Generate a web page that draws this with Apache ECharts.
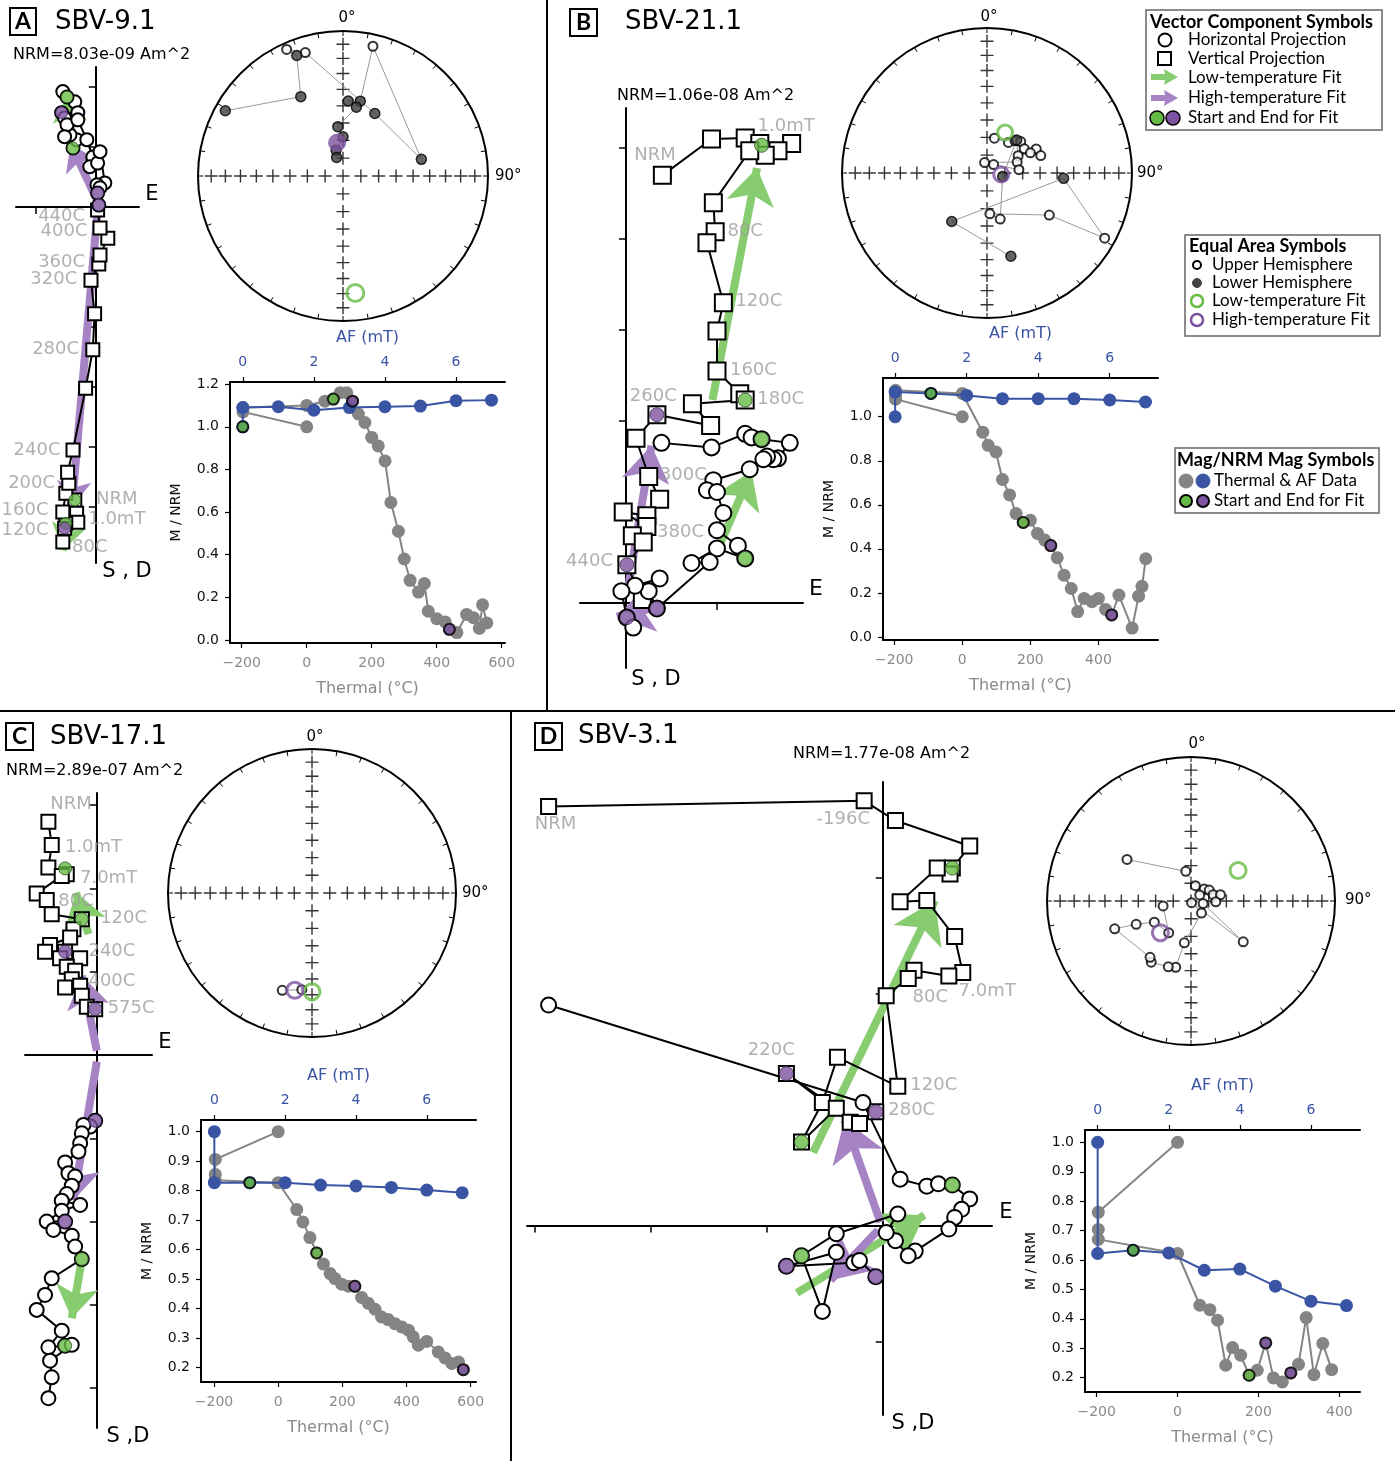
<!DOCTYPE html>
<html>
<head>
<meta charset="utf-8">
<script src="https://cdn.jsdelivr.net/npm/echarts@6.0.0/dist/echarts.min.js"></script>
<style>
html, body { margin: 0; padding: 0; background: #fff; }
#chart { width: 1395px; height: 1461px; }
</style>
</head>
<body>
<div id="chart"></div>
<script>
// ---------- SBV-9.1 (A) ----------
var aHoriz = [[-0.38,0.98],[-0.32,1.12],[-0.43,1.20],[-0.35,1.75],[-0.55,1.92],[-0.48,1.83],[-0.30,1.57],[-0.57,1.57],[-0.52,1.48],[-0.48,1.37],[-0.52,1.17],[-0.30,1.45],[-0.15,1.12],[-0.05,0.83],[-0.10,0.67],[0.03,0.73],[0.07,0.92],[0.15,0.40],[0.02,0.37],[0.07,0.32],[0.03,0.23],[0.05,0.03]];
var aVert = [[-0.35,-4.88],[-0.32,-5.10],[-0.30,-5.25],[-0.55,-5.58],[-0.50,-5.27],[-0.52,-5.35],[-0.55,-5.08],[-0.50,-4.77],[-0.45,-4.60],[-0.47,-4.42],[-0.38,-4.05],[-0.17,-3.02],[-0.05,-2.38],[-0.02,-1.78],[-0.08,-1.22],[0.05,-0.95],[0.07,-0.80],[0.20,-0.52],[0.07,-0.35],[0.03,-0.05]];
var aSteps = [[-0.57,-0.15,'440C'],[-0.53,-0.40,'400C'],[-0.57,-0.92,'360C'],[-0.70,-1.20,'320C'],[-0.67,-2.38,'280C'],[-0.98,-4.05,'240C'],[-1.07,-4.60,'200C'],[-1.18,-5.05,'160C'],[-1.18,-5.38,'120C'],[0.35,-4.87,'NRM'],[0.35,-5.20,'1.0mT'],[-0.10,-5.67,'80C']];
var aLowEnds = [[-0.38,0.98],[-0.48,1.83],[-0.35,-4.88],[-0.50,-5.27]];
var aHighEnds = [[-0.57,1.57],[0.03,0.23],[-0.52,-5.35],[0.05,0.03]];
var aLowFit = [[[-0.38,0.98],[-0.48,1.85]], [[-0.35,-4.88],[-0.55,-5.72]]];
var aHighFit = [[[0.05,0.05],[-0.42,1.05]], [[0.03,-0.05],[-0.40,-5.0]]];
var aEq = [[299,8],[332,38],[339,12],[336,-5],[343,-12],[27,50],[78,44],[13,-9],[13,46],[4,47],[11,50],[354,62],[0,68],[345,75],[341,79]];
var aEqLow = [174,-20], aEqHigh = [350,71];
var aThermal = [[0,1.0],[-196,1.07],[-196,1.09],[0,1.10],[56,1.12],[82,1.13],[103,1.16],[123,1.16],[141,1.12],[159,1.06],[179,1.02],[200,0.95],[220,0.91],[241,0.84],[259,0.645],[282,0.51],[300,0.38],[318,0.28],[344,0.225],[362,0.265],[374,0.135],[400,0.10],[426,0.085],[439,0.05],[462,0.035],[492,0.12],[513,0.105],[531,0.055],[541,0.165],[554,0.08]];
var aAF = [[0,1.0],[0,1.09],[1,1.094],[2,1.078],[3,1.09],[4,1.094],[5,1.097],[6,1.122],[7,1.125]];
var aMagLowT = [[82,1.13]], aMagLowAF = [[0,1.0]], aMagHighT = [[141,1.12],[439,0.05]];

// ---------- SBV-21.1 (B) ----------
var bHoriz = [[0.39,1.76],[0.94,1.71],[1.31,1.86],[1.38,1.82],[1.49,1.80],[1.80,1.76],[1.67,1.59],[1.62,1.58],[1.55,1.61],[1.51,1.58],[1.36,1.47],[0.96,1.35],[0.89,1.24],[1.00,1.22],[1.07,0.99],[1.00,0.80],[1.23,0.63],[1.31,0.49],[1.00,0.60],[0.72,0.44],[0.92,0.45],[0.34,-0.06],[0.25,0.13],[0.10,0.19],[0.37,0.27],[-0.05,0.13],[0.01,-0.16],[0.08,-0.27]];
var bVert = [[0.40,4.70],[0.94,5.10],[1.31,5.11],[1.47,5.05],[1.82,5.05],[1.67,4.97],[1.53,4.92],[1.36,4.97],[0.96,4.40],[0.98,4.08],[0.89,3.96],[1.07,3.30],[1.00,2.99],[1.00,2.55],[1.25,2.30],[1.31,2.23],[0.73,2.19],[0.93,1.95],[0.34,2.07],[0.11,1.81],[0.25,1.39],[0.37,1.14],[0.23,0.96],[-0.03,1.00],[0.23,0.84],[0.07,0.74],[0.19,0.67],[0.01,0.42],[0.18,0.04]];
var bSteps = [[0.32,4.92,'NRM'],[1.76,5.24,'1.0mT'],[1.31,4.09,'80C'],[1.46,3.31,'120C'],[1.40,2.56,'160C'],[1.70,2.24,'180C'],[0.30,2.27,'260C'],[0.63,1.40,'300C'],[0.60,0.78,'380C'],[-0.40,0.46,'440C']];
var bLowEnds = [[1.49,5.03],[1.31,2.23],[1.49,1.80],[1.31,0.49]];
var bHighEnds = [[0.34,2.07],[0.01,0.42],[0.34,-0.06],[0.01,-0.16]];
var bLowFit = [[[1.03,0.64],[1.38,1.45]], [[0.95,2.23],[1.44,4.78]]];
var bHighFit = [[[0.32,-0.05],[-0.10,-0.15]], [[0.02,0.14],[0.28,1.73]]];
var bEq = [[12,-70],[35,-69],[41,-66],[47,-64],[57,-65],[64,-59],[72,-58],[65,-63],[61,-70],[70,-72],[347,-84],[38,-84],[84,-72],[42,65],[103,81],[164,-63],[176,-67],[124,-47],[119,-8],[94,46],[216,56],[164,40]];
var bEqLow = [24,-65], bEqHigh = [96,-82];
var bThermal = [[0,1.0],[-196,1.08],[-196,1.10],[-196,1.12],[0,1.106],[60,0.93],[76,0.87],[99,0.84],[118,0.715],[139,0.645],[158,0.56],[179,0.52],[200,0.53],[221,0.47],[242,0.44],[260,0.415],[279,0.36],[299,0.28],[320,0.22],[339,0.115],[358,0.175],[381,0.16],[400,0.175],[421,0.125],[439,0.10],[460,0.19],[499,0.04],[518,0.185],[528,0.23],[539,0.355]];
var bAF = [[0,1.0],[0,1.112],[1,1.106],[2,1.097],[3,1.082],[4,1.082],[5,1.082],[6,1.076],[7,1.067]];
var bMagLowT = [[179,0.52]], bMagLowAF = [[1,1.106]], bMagHighT = [[260,0.415],[439,0.10]];

// ---------- SBV-17.1 (C) ----------
var cHoriz = [[-0.02,-0.79],[-0.08,-0.86],[-0.16,-0.84],[-0.18,-0.94],[-0.20,-1.06],[-0.22,-1.16],[-0.38,-1.29],[-0.34,-1.42],[-0.26,-1.46],[-0.30,-1.57],[-0.36,-1.67],[-0.42,-1.75],[-0.20,-1.80],[-0.42,-1.87],[-0.60,-2.00],[-0.38,-2.00],[-0.52,-2.10],[-0.30,-2.17],[-0.26,-2.30],[-0.18,-2.45],[-0.54,-2.68],[-0.62,-2.88],[-0.72,-3.06],[-0.42,-3.31],[-0.58,-3.51],[-0.38,-3.49],[-0.30,-3.48],[-0.56,-3.67],[-0.54,-3.87],[-0.58,-4.12]];
var cVert = [[-0.58,2.80],[-0.54,2.52],[-0.58,2.25],[-0.36,2.17],[-0.42,2.15],[-0.72,1.94],[-0.60,1.86],[-0.54,1.69],[-0.18,1.63],[-0.28,1.51],[-0.32,1.41],[-0.56,1.32],[-0.62,1.24],[-0.38,1.24],[-0.44,1.16],[-0.20,1.16],[-0.36,1.06],[-0.26,1.01],[-0.30,0.91],[-0.38,0.81],[-0.20,0.83],[-0.18,0.71],[-0.12,0.58],[-0.02,0.55]];
var cSteps = [[-0.31,3.01,'NRM'],[-0.04,2.49,'1.0mT'],[0.14,2.12,'7.0mT'],[-0.25,1.85,'80C'],[0.32,1.64,'120C'],[0.18,1.25,'240C'],[0.18,0.89,'400C'],[0.41,0.56,'575C']];
var cLowEnds = [[-0.38,2.24],[-0.18,1.63],[-0.18,-2.45],[-0.38,-3.49]];
var cHighEnds = [[-0.38,1.24],[-0.02,0.55],[-0.02,-0.79],[-0.38,-2.00]];
var cLowFit = [[[-0.18,-2.45],[-0.30,-3.16]], [[-0.10,1.45],[-0.25,1.95]]];
var cHighFit = [[[0,-0.08],[-0.28,-1.74]], [[0,0.05],[-0.18,0.95]]];
var cEq = [[197,-30],[186,-33]];
var cEqLow = [180,-32], cEqHigh = [190,-32];
var cThermal = [[0,1.0],[-196,0.906],[-196,0.855],[-196,0.835],[0,0.827],[58,0.736],[77,0.694],[99,0.641],[120,0.589],[141,0.551],[162,0.519],[177,0.502],[198,0.483],[219,0.476],[239,0.476],[260,0.438],[281,0.418],[302,0.398],[322,0.372],[343,0.363],[364,0.349],[385,0.338],[406,0.327],[421,0.304],[437,0.276],[463,0.289],[499,0.253],[520,0.233],[541,0.214],[562,0.219],[577,0.193]];
var cAF = [[0,1.0],[0,0.827],[1,0.827],[2,0.827],[3,0.819],[4,0.816],[5,0.811],[6,0.802],[7,0.793]];
var cMagLowT = [[120,0.589]], cMagLowAF = [[1,0.827]], cMagHighT = [[239,0.476],[577,0.193]];

// ---------- SBV-3.1 (D) ----------
var dHoriz = [[-2.88,1.90],[-0.17,1.06],[0.15,0.40],[0.38,0.34],[0.48,0.36],[0.60,0.35],[0.75,0.23],[0.68,0.14],[0.62,0.07],[0.57,-0.03],[0.28,-0.22],[0.22,-0.26],[0.11,-0.13],[0.03,-0.06],[0.13,0.10],[-0.40,-0.07],[-0.70,-0.26],[-0.52,-0.74],[-0.40,-0.23],[-0.83,-0.35],[-0.25,-0.32],[-0.20,-0.30],[-0.06,-0.44]];
var dVert = [[-2.88,3.61],[-0.16,3.66],[0.11,3.49],[0.75,3.27],[0.60,3.08],[0.58,3.03],[0.47,3.08],[0.15,2.79],[0.38,2.80],[0.62,2.49],[0.69,2.18],[0.57,2.15],[0.27,2.20],[0.22,2.13],[0.03,1.98],[0.13,1.20],[-0.39,1.45],[-0.52,1.06],[-0.70,0.72],[-0.40,1.01],[-0.83,1.31],[-0.28,0.89],[-0.20,0.88],[-0.06,0.98]];
var dSteps = [[-2.82,3.46,'NRM'],[-0.34,3.50,'-196C'],[0.96,3.10,'1.0mT'],[0.98,2.49,'5.0mT'],[0.90,2.02,'7.0mT'],[0.41,1.97,'80C'],[-0.96,1.51,'220C'],[0.44,1.21,'120C'],[0.25,0.99,'280C']];
var dLowEnds = [[0.60,3.08],[-0.70,0.72],[0.60,0.35],[-0.70,-0.26]];
var dHighEnds = [[-0.83,1.31],[-0.06,0.98],[-0.83,-0.35],[-0.06,-0.44]];
var dLowFit = [[[-0.74,-0.58],[0.36,0.09]], [[-0.60,0.63],[0.45,2.80]]];
var dHighFit = [[[-0.04,-0.04],[-0.45,-0.47]], [[-0.02,0.03],[-0.33,0.91]]];
var dEq = [[303,-46],[350,-73],[16,-81],[48,-80],[59,-78],[55,-84],[74,-77],[78,-73],[92,-76],[102,-83],[128,-52],[160,-89],[139,-81],[189,-66],[193,-51],[199,-50],[213,-48],[216,-50],[250,-43],[247,-56],[240,-66],[215,-68],[260,-74]];
var dEqLow = [57,-58], dEqHigh = [224,-65];
var dThermal = [[0,1.0],[-196,0.762],[-196,0.704],[-196,0.67],[0,0.622],[55,0.446],[80,0.431],[99,0.395],[119,0.242],[136,0.302],[156,0.276],[177,0.208],[197,0.225],[218,0.318],[237,0.199],[259,0.185],[280,0.216],[299,0.245],[318,0.404],[337,0.21],[359,0.316],[381,0.227]];
var dAF = [[0,1.0],[0,0.622],[1,0.633],[2,0.624],[3,0.565],[4,0.569],[5,0.511],[6,0.46],[7,0.445]];
var dMagLowT = [[177,0.208]], dMagLowAF = [[1,0.633]], dMagHighT = [[218,0.318],[280,0.216]];

// equal-area grid crosses, every 10 deg of inclination
var eqTickInc = [10, 20, 30, 40, 50, 60, 70, 80];

var GREEN = '#66bb45', PURPLE = '#7d52a0';
var GREEN_ARROW = '#88cc70', PURPLE_ARROW = '#a583c4';
var BLUE = '#3a54a4', GRAY = '#848484', STEP_GRAY = '#9c9c9c';
var TICK_FONT = 'DejaVu Sans';
var CROSS = 'path://M5.35,0H6.65V5.35H12V6.65H6.65V12H5.35V6.65H0V5.35H5.35Z';

var grids = [], xAxes = [], yAxes = [], polars = [], angleAxes = [], radiusAxes = [], series = [];

function fitArrow(segs, color, size) {
    return {
        silent: true, z: 1, symbol: ['none', 'arrow'], symbolSize: size,
        label: {show: false}, emphasis: {disabled: true},
        lineStyle: {color: color, width: 8, type: 'solid', opacity: 1},
        itemStyle: {color: color},
        data: segs.map(function (s) { return [{coord: s[0]}, {coord: s[1]}]; })
    };
}

function addZij(o) {
    var gi = grids.length;
    grids.push({left: o.box[0], top: o.box[1], width: o.box[2], height: o.box[3]});
    var xi = xAxes.length, yi = yAxes.length;
    function ax(range, ticks) {
        return {
            gridIndex: gi, type: 'value', min: range[0], max: range[1],
            axisLine: {show: true, onZero: true, lineStyle: {color: '#000', width: 2}},
            axisTick: {show: true, customValues: ticks, length: 7, lineStyle: {color: '#000', width: 1.5}},
            axisLabel: {show: false}, splitLine: {show: false}
        };
    }
    xAxes.push(ax(o.xr, o.xt));
    yAxes.push(ax(o.yr, o.yt));
    var base = {xAxisIndex: xi, yAxisIndex: yi, animation: false, silent: true};
    series.push(Object.assign({}, base, {
        type: 'scatter', data: o.steps, symbolSize: 1, itemStyle: {color: 'rgba(0,0,0,0)'}, z: 2,
        label: {show: true, position: 'inside', color: STEP_GRAY, fontSize: 18, fontFamily: TICK_FONT,
            formatter: function (p) { return p.data[2]; }}
    }));
    series.push(Object.assign({}, base, {
        type: 'line', data: o.vert, symbol: 'rect', symbolSize: o.sq, showAllSymbol: true, z: 3,
        itemStyle: {color: '#fff', borderColor: '#000', borderWidth: 2},
        lineStyle: {color: '#000', width: 2},
        markLine: fitArrow(o.lowFit, GREEN_ARROW, o.head)
    }));
    series.push(Object.assign({}, base, {
        type: 'line', data: o.horiz, symbol: 'circle', symbolSize: o.ci, showAllSymbol: true, z: 3,
        itemStyle: {color: '#fff', borderColor: '#000', borderWidth: 2},
        lineStyle: {color: '#000', width: 2},
        markLine: fitArrow(o.highFit, PURPLE_ARROW, o.head)
    }));
    series.push(Object.assign({}, base, {
        type: 'scatter', data: o.lowEnds, symbolSize: o.hi, z: 4,
        itemStyle: {color: GREEN, borderColor: '#2b4a22', borderWidth: 1}
    }));
    series.push(Object.assign({}, base, {
        type: 'scatter', data: o.highEnds, symbolSize: o.hi, z: 4,
        itemStyle: {color: PURPLE, borderColor: '#3a2650', borderWidth: 1}
    }));
}

function eqArea(d) {
    return [Math.sqrt(1 - Math.sin(Math.abs(d[1]) * Math.PI / 180)), d[0]];
}

function addEq(o) {
    var pi = polars.length;
    polars.push({center: o.center, radius: o.radius});
    angleAxes.push({
        polarIndex: pi, type: 'value', min: 0, max: 360, interval: 10, startAngle: 90, clockwise: true,
        axisLine: {show: true, lineStyle: {color: '#000', width: 2}},
        axisTick: {show: true, inside: true, length: 5, lineStyle: {color: '#000', width: 1}},
        axisLabel: {show: false}, splitLine: {show: false}
    });
    radiusAxes.push({
        polarIndex: pi, type: 'value', min: 0, max: 1,
        axisLine: {show: false}, axisTick: {show: false}, axisLabel: {show: false}, splitLine: {show: false}
    });
    var crosses = [[0, 0]];
    eqTickInc.forEach(function (inc) {
        [0, 90, 180, 270].forEach(function (a) { crosses.push(eqArea([a, inc])); });
    });
    var base = {coordinateSystem: 'polar', polarIndex: pi, animation: false, silent: true};
    series.push(Object.assign({}, base, {type: 'scatter', data: crosses, symbol: CROSS, symbolSize: 13,
        itemStyle: {color: '#000'}, z: 1}));
    if (o.dirs.length > 1) {
        series.push(Object.assign({}, base, {type: 'line', data: o.dirs.map(eqArea), showSymbol: false,
            lineStyle: {color: '#999', width: 1}, z: 2}));
    }
    series.push(Object.assign({}, base, {type: 'scatter',
        data: o.dirs.filter(function (d) { return d[1] < 0; }).map(eqArea), symbolSize: 9, z: 3,
        itemStyle: {color: '#fff', borderColor: '#000', borderWidth: 2}}));
    series.push(Object.assign({}, base, {type: 'scatter',
        data: o.dirs.filter(function (d) { return d[1] >= 0; }).map(eqArea), symbolSize: 10, z: 3,
        itemStyle: {color: '#3f3f3f', borderColor: '#000', borderWidth: 1.5}}));
    [[o.low, GREEN], [o.high, PURPLE]].forEach(function (f) {
        var up = f[0][1] < 0;
        series.push(Object.assign({}, base, {type: 'scatter', data: [eqArea(f[0])], symbolSize: o.fit, z: 4,
            itemStyle: up ? {color: 'rgba(255,255,255,0)', borderColor: f[1], borderWidth: 3}
                          : {color: f[1], borderColor: f[1], borderWidth: 1}}));
    });
}

function signed(v) { return v < 0 ? '\u2212' + Math.abs(v) : String(v); }

function addMag(o) {
    var gi = grids.length;
    grids.push({left: o.box[0], top: o.box[1], width: o.box[2], height: o.box[3]});
    var xb = xAxes.length, xt = xb + 1, yi = yAxes.length;
    xAxes.push({
        gridIndex: gi, type: 'value', position: 'bottom', min: o.tr[0], max: o.tr[1],
        name: 'Thermal (\u00b0C)', nameLocation: 'middle', nameGap: 38,
        nameTextStyle: {color: '#8a8a8a', fontSize: 16, fontFamily: TICK_FONT},
        axisLine: {onZero: false, lineStyle: {color: '#000', width: 2}},
        axisTick: {customValues: o.tt, length: 5, lineStyle: {color: '#000', width: 1.2}},
        axisLabel: {customValues: o.tt, color: '#8a8a8a', fontSize: 14, fontFamily: TICK_FONT, margin: 13, formatter: signed},
        splitLine: {show: false}
    });
    xAxes.push({
        gridIndex: gi, type: 'value', position: 'top', min: o.ar[0], max: o.ar[1],
        name: 'AF (mT)', nameLocation: 'middle', nameGap: 36,
        nameTextStyle: {color: BLUE, fontSize: 16, fontFamily: TICK_FONT},
        axisLine: {onZero: false, lineStyle: {color: '#000', width: 2}},
        axisTick: {customValues: [0, 2, 4, 6], length: 5, lineStyle: {color: '#000', width: 1.2}},
        axisLabel: {customValues: [0, 2, 4, 6], color: BLUE, fontSize: 14, fontFamily: TICK_FONT, margin: 13},
        splitLine: {show: false}
    });
    yAxes.push({
        gridIndex: gi, type: 'value', min: o.yr[0], max: o.yr[1],
        name: 'M / NRM', nameLocation: 'middle', nameGap: 47, nameRotate: 90,
        nameTextStyle: {color: '#111', fontSize: 14, fontFamily: TICK_FONT},
        axisLine: {onZero: false, lineStyle: {color: '#000', width: 2}},
        axisTick: {customValues: o.yt, length: 5, lineStyle: {color: '#000', width: 1.2}},
        axisLabel: {customValues: o.yt, color: '#111', fontSize: 14, fontFamily: TICK_FONT, margin: 11,
            formatter: function (v) { return v.toFixed(1); }},
        splitLine: {show: false}
    });
    var tb = {xAxisIndex: xb, yAxisIndex: yi, animation: false, silent: true};
    var ab = {xAxisIndex: xt, yAxisIndex: yi, animation: false, silent: true};
    series.push(Object.assign({}, tb, {type: 'line', data: o.thermal, symbol: 'circle', symbolSize: 13,
        showAllSymbol: true, itemStyle: {color: GRAY}, lineStyle: {color: GRAY, width: 2}, z: 2}));
    series.push(Object.assign({}, ab, {type: 'line', data: o.af, symbol: 'circle', symbolSize: 13,
        showAllSymbol: true, itemStyle: {color: BLUE}, lineStyle: {color: BLUE, width: 2}, z: 3}));
    var hl = function (c) { return {color: c, borderColor: '#000', borderWidth: 2}; };
    series.push(Object.assign({}, tb, {type: 'scatter', data: o.lowT, symbolSize: 11, itemStyle: hl(GREEN), z: 4}));
    series.push(Object.assign({}, ab, {type: 'scatter', data: o.lowAF, symbolSize: 11, itemStyle: hl(GREEN), z: 4}));
    series.push(Object.assign({}, tb, {type: 'scatter', data: o.highT, symbolSize: 11, itemStyle: hl(PURPLE), z: 4}));
}

// ----- panel A -----
addZij({box: [16, 67, 123, 496], xr: [-1.33, 0.72], yr: [-5.93, 2.33], xt: [-1], yt: [-5, -4, -3, -2, -1, 1, 2],
    horiz: aHoriz, vert: aVert, steps: aSteps, lowEnds: aLowEnds, highEnds: aHighEnds,
    lowFit: aLowFit, highFit: aHighFit, sq: 13, ci: 13, hi: 12, head: 26});
addEq({center: [343, 176], radius: 145, dirs: aEq, low: aEqLow, high: aEqHigh, fit: 17});
addMag({box: [230, 382, 275, 261], tr: [-236, 610], ar: [-0.36, 7.38], yr: [-0.014, 1.21],
    tt: [-200, 0, 200, 400, 600], yt: [0, 0.2, 0.4, 0.6, 0.8, 1.0, 1.2],
    thermal: aThermal, af: aAF, lowT: aMagLowT, lowAF: aMagLowAF, highT: aMagHighT});

// ----- panel B -----
addZij({box: [580, 108, 223, 560], xr: [-0.505, 1.945], yr: [-0.714, 5.44], xt: [1], yt: [1, 2, 3, 4, 5],
    horiz: bHoriz, vert: bVert, steps: bSteps, lowEnds: bLowEnds, highEnds: bHighEnds,
    lowFit: bLowFit, highFit: bHighFit, sq: 17, ci: 16, hi: 14, head: 36});
addEq({center: [987, 173], radius: 145, dirs: bEq, low: bEqLow, high: bEqHigh, fit: 15});
addMag({box: [883, 378, 275, 262], tr: [-233, 575], ar: [-0.34, 7.35], yr: [-0.014, 1.176],
    tt: [-200, 0, 200, 400], yt: [0, 0.2, 0.4, 0.6, 0.8, 1.0],
    thermal: bThermal, af: bAF, lowT: bMagLowT, lowAF: bMagLowAF, highT: bMagHighT});

// ----- panel C -----
addZij({box: [25, 793, 127, 635], xr: [-0.86, 0.66], yr: [-4.478, 3.145], xt: [], yt: [-4, -3, -2, -1, 1, 2, 3],
    horiz: cHoriz, vert: cVert, steps: cSteps, lowEnds: cLowEnds, highEnds: cHighEnds,
    lowFit: cLowFit, highFit: cHighFit, sq: 14, ci: 14, hi: 13, head: 32});
addEq({center: [312, 893], radius: 144, dirs: cEq, low: cEqLow, high: cEqHigh, fit: 16});
addMag({box: [201, 1120, 275, 262], tr: [-240.5, 616.6], ar: [-0.377, 7.39], yr: [0.1513, 1.0396],
    tt: [-200, 0, 200, 400, 600], yt: [0.2, 0.3, 0.4, 0.5, 0.6, 0.7, 0.8, 0.9, 1.0],
    thermal: cThermal, af: cAF, lowT: cMagLowT, lowAF: cMagLowAF, highT: cMagHighT});

// ----- panel D -----
addZij({box: [527, 782, 465, 633], xr: [-3.066, 0.942], yr: [-1.632, 3.822], xt: [-3, -2, -1], yt: [-1, 1, 2, 3],
    horiz: dHoriz, vert: dVert, steps: dSteps, lowEnds: dLowEnds, highEnds: dHighEnds,
    lowFit: dLowFit, highFit: dHighFit, sq: 15, ci: 15, hi: 14, head: 40});
addEq({center: [1191, 901], radius: 144, dirs: dEq, low: dEqLow, high: dEqHigh, fit: 16});
addMag({box: [1085, 1130, 275, 262], tr: [-228.8, 451], ar: [-0.356, 7.38], yr: [0.151, 1.042],
    tt: [-200, 0, 200, 400], yt: [0.2, 0.3, 0.4, 0.5, 0.6, 0.7, 0.8, 0.9, 1.0],
    thermal: dThermal, af: dAF, lowT: dMagLowT, lowAF: dMagLowAF, highT: dMagHighT});

// ----- annotations -----
function text(x, y, s, font, color, align) {
    return {type: 'text', x: x, y: y, silent: true, z: 10,
        style: {text: s, font: font, fill: color || '#000', align: align || 'left', verticalAlign: 'middle',
            textAlign: align || 'left', textVerticalAlign: 'middle'}};
}
function line(x1, y1, x2, y2) {
    return {type: 'line', silent: true, shape: {x1: x1, y1: y1, x2: x2, y2: y2}, style: {stroke: '#000', lineWidth: 2}};
}
function box(x, y, w, h, stroke, lw) {
    return {type: 'rect', silent: true, z: 9, shape: {x: x, y: y, width: w, height: h},
        style: {fill: '#fff', stroke: stroke, lineWidth: lw}};
}
function dot(cx, cy, r, fill, stroke, lw) {
    return {type: 'circle', silent: true, z: 10, shape: {cx: cx, cy: cy, r: r},
        style: {fill: fill, stroke: stroke, lineWidth: lw}};
}
function legendArrow(x, y, color) {
    return {type: 'polygon', silent: true, z: 10, style: {fill: color},
        shape: {points: [[x, y - 3], [x + 14, y - 3], [x + 13, y - 8], [x + 27, y], [x + 13, y + 8], [x + 14, y + 3], [x, y + 3]]}};
}

var F = TICK_FONT, L = 'Lato';
var graphics = [
    line(547, 0, 547, 711), line(0, 711, 1395, 711), line(511, 711, 511, 1461),
    box(10, 8, 26, 27, '#000', 2), text(23, 22, 'A', 'bold 23px ' + L, '#000', 'center'),
    box(570, 9, 27, 27, '#000', 2), text(583.5, 23, 'B', 'bold 23px ' + L, '#000', 'center'),
    box(6, 723, 27, 27, '#000', 2), text(19.5, 737, 'C', 'bold 23px ' + L, '#000', 'center'),
    box(535, 723, 27, 27, '#000', 2), text(548.5, 737, 'D', 'bold 23px ' + L, '#000', 'center'),
    text(55, 22, 'SBV-9.1', '26px ' + F), text(625, 22, 'SBV-21.1', '26px ' + F),
    text(50, 737, 'SBV-17.1', '26px ' + F), text(578, 736, 'SBV-3.1', '26px ' + F),
    text(13, 55, 'NRM=8.03e-09 Am^2', '16px ' + F), text(617, 96, 'NRM=1.06e-08 Am^2', '16px ' + F),
    text(6, 771, 'NRM=2.89e-07 Am^2', '16px ' + F), text(793, 754, 'NRM=1.77e-08 Am^2', '16px ' + F),
    text(152, 195, 'E', '21px ' + F, '#000', 'center'), text(127, 572, 'S , D', '21px ' + F, '#000', 'center'),
    text(816, 589, 'E', '22px ' + F, '#000', 'center'), text(656, 680, 'S , D', '21px ' + F, '#000', 'center'),
    text(165, 1043, 'E', '21px ' + F, '#000', 'center'), text(128, 1437, 'S ,D', '21px ' + F, '#000', 'center'),
    text(1006, 1213, 'E', '21px ' + F, '#000', 'center'), text(913, 1424, 'S ,D', '21px ' + F, '#000', 'center'),
    text(347, 18, '0\u00b0', '15px ' + F, '#000', 'center'), text(495, 176, '90\u00b0', '15px ' + F),
    text(989, 17, '0\u00b0', '15px ' + F, '#000', 'center'), text(1137, 173, '90\u00b0', '15px ' + F),
    text(315, 737, '0\u00b0', '15px ' + F, '#000', 'center'), text(462, 893, '90\u00b0', '15px ' + F),
    text(1197, 744, '0\u00b0', '15px ' + F, '#000', 'center'), text(1345, 900, '90\u00b0', '15px ' + F),

    // vector component legend
    box(1146, 10, 236, 120, '#666', 1.5),
    text(1150, 22, 'Vector Component Symbols', 'bold 18px ' + L),
    dot(1165, 40, 6.5, '#fff', '#000', 2),
    {type: 'rect', silent: true, z: 10, shape: {x: 1158, y: 52, width: 13, height: 13}, style: {fill: '#fff', stroke: '#000', lineWidth: 2}},
    legendArrow(1151, 77, GREEN_ARROW), legendArrow(1151, 98, PURPLE_ARROW),
    dot(1157, 118, 7, GREEN, '#000', 1.5), dot(1173, 118, 7, PURPLE, '#000', 1.5),
    text(1188, 40, 'Horizontal Projection', '17px ' + L), text(1188, 59, 'Vertical Projection', '17px ' + L),
    text(1188, 78, 'Low-temperature Fit', '17px ' + L), text(1188, 98, 'High-temperature Fit', '17px ' + L),
    text(1188, 118, 'Start and End for Fit', '17px ' + L),

    // equal area legend
    box(1185, 235, 195, 101, '#666', 1.5),
    text(1189, 246, 'Equal Area Symbols', 'bold 18px ' + L),
    dot(1197, 265, 4, '#fff', '#000', 2), dot(1197, 283, 4.5, '#444', '#444', 1),
    dot(1197, 301, 6, '#fff', GREEN, 2.5), dot(1197, 320, 6, '#fff', PURPLE, 2.5),
    text(1212, 265, 'Upper Hemisphere', '17px ' + L), text(1212, 283, 'Lower Hemisphere', '17px ' + L),
    text(1212, 301, 'Low-temperature Fit', '17px ' + L), text(1212, 320, 'High-temperature Fit', '17px ' + L),

    // mag/nrm legend
    box(1175, 448, 204, 65, '#666', 1.5),
    text(1177, 460, 'Mag/NRM Mag Symbols', 'bold 18px ' + L),
    dot(1186, 481, 7, GRAY, GRAY, 1), dot(1203, 481, 7, BLUE, BLUE, 1),
    dot(1186, 501, 6, GREEN, '#000', 2), dot(1203, 501, 6, PURPLE, '#000', 2),
    text(1214, 481, 'Thermal & AF Data', '17px ' + L), text(1214, 501, 'Start and End for Fit', '17px ' + L)
];

var chart = echarts.init(document.getElementById('chart'), null, {renderer: 'canvas'});
chart.setOption({
    backgroundColor: '#fff',
    animation: false,
    grid: grids,
    xAxis: xAxes,
    yAxis: yAxes,
    polar: polars,
    angleAxis: angleAxes,
    radiusAxis: radiusAxes,
    series: series,
    graphic: graphics
});
</script>
</body>
</html>
